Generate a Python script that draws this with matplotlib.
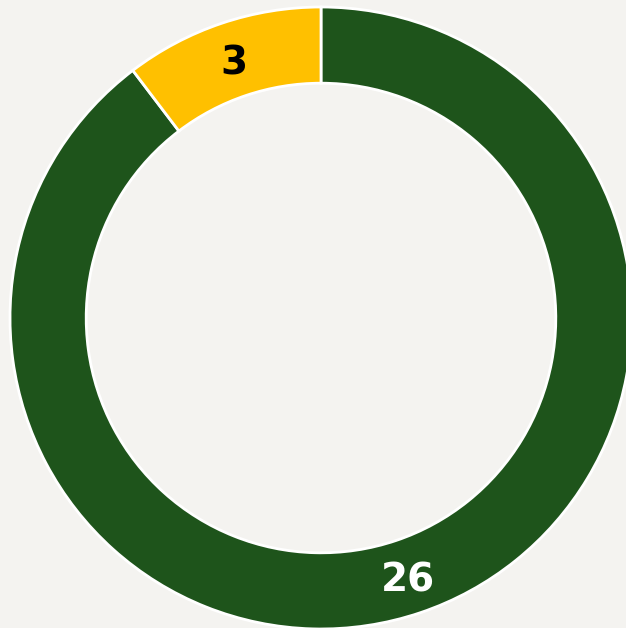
import matplotlib
matplotlib.use("Agg")
import matplotlib.pyplot as plt
import numpy as np

labels = ["26", "3"]
values = [26, 3]
colors = ["#1e541b", "#ffc000"]
text_colors = ["white", "black"]

bg = "#f4f3f0"
fig = plt.figure(figsize=(6.26, 6.28), dpi=100, facecolor=bg)
ax = fig.add_axes([0, 0, 1, 1])
ax.set_facecolor(bg)

R = 311.0
cx, cy = 321.0, 318.0
W, H = 626.0, 628.0

wedges, _ = ax.pie(values, colors=colors, startangle=90, counterclock=False,
                   radius=1.0, wedgeprops=dict(width=0.245, edgecolor="white", linewidth=2))

total = sum(values)
start = 90.0
for v, lab, tc in zip(values, labels, text_colors):
    span = v / total * 360.0
    mid = np.deg2rad(start - span / 2)
    r = 1.0 - 0.245 / 2
    ax.text(r * np.cos(mid), r * np.sin(mid), lab, ha="center", va="center_baseline",
            fontsize=28, fontweight="bold", color=tc)
    start -= span

ax.set_xlim(-cx / R, (W - cx) / R)
ax.set_ylim(-(H - cy) / R, cy / R)
ax.set_aspect("equal")
ax.axis("off")

fig.savefig("out.png", dpi=100, facecolor=bg)
